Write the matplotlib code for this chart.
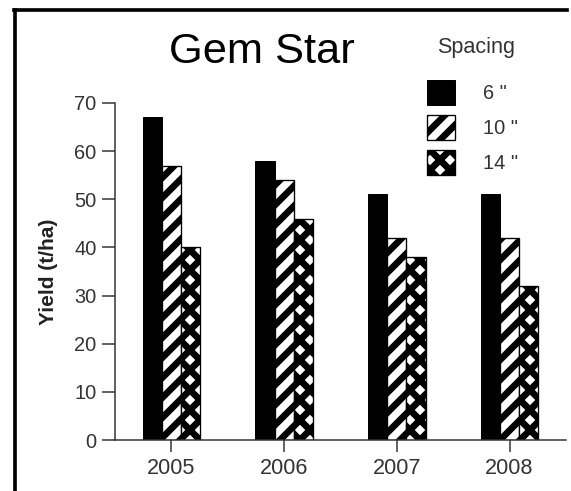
import numpy as np
import matplotlib.pyplot as plt
from matplotlib.lines import Line2D

years = ["2005", "2006", "2007", "2008"]
spacing = ['6 "', '10 "', '14 "']
yield_6 = [67, 58, 51, 51]
yield_10 = [57, 54, 42, 42]
yield_14 = [40, 46, 38, 32]

plt.rcParams['font.family'] = ['Liberation Sans', 'DejaVu Sans']
plt.rcParams['hatch.linewidth'] = 4.0
plt.rcParams['hatch.color'] = 'black'

DPI = 120
fig = plt.figure(figsize=(571 / DPI, 491 / DPI), dpi=DPI)
ax = fig.add_axes([115 / 571, 1 - 440 / 491, 451 / 571, 337 / 491])

x = np.arange(len(years))
w = 0.17
grey = '#333333'

b1 = ax.bar(x - w, yield_6, w, color='black', edgecolor='black', linewidth=0.6, label=spacing[0])
b2 = ax.bar(x, yield_10, w, color='white', edgecolor='black', linewidth=0.8, hatch='//', label=spacing[1])
b3 = ax.bar(x + w, yield_14, w, color='white', edgecolor='black', linewidth=0.8, hatch='xx', label=spacing[2])

ax.set_xlim(-0.5, 3.5)
ax.set_ylim(0, 70)
ax.set_yticks(range(0, 71, 10))
ax.set_xticks(x)
ax.set_xticklabels(years)

for s in ['top', 'right']:
    ax.spines[s].set_visible(False)
ax.spines['left'].set_bounds(0, 70)
for s in ['left', 'bottom']:
    ax.spines[s].set_color(grey)
    ax.spines[s].set_linewidth(0.9)

ax.tick_params(axis='y', length=8, width=0.9, color=grey, labelcolor=grey, labelsize=12, pad=3)
ax.tick_params(axis='x', length=7, width=0.9, color=grey, labelcolor=grey, labelsize=13, pad=4)
ax.set_ylabel('Yield (t/ha)', fontsize=12.5, fontweight='bold', color='#222222', labelpad=10)

fig.text(262 / 571, 1 - 52 / 491, 'Gem Star', fontsize=26, ha='center', va='center', color='black')
fig.text(476 / 571, 1 - 47 / 491, 'Spacing', fontsize=13, ha='center', va='center', color=grey)

leg = fig.legend(handles=[b1, b2, b3], labels=spacing,
                 loc='upper left', bbox_to_anchor=(413 / 571, 1 - 66 / 491),
                 frameon=False, fontsize=12,
                 handlelength=1.4, handleheight=1.55, handletextpad=1.4,
                 labelspacing=0.5, borderpad=0.2)
for t in leg.get_texts():
    t.set_color(grey)

# frame lines along the top and left edge
fig.add_artist(Line2D([15 / 571, 15 / 571], [0, 1 - 10 / 491], transform=fig.transFigure, color='black', lw=2.2))
fig.add_artist(Line2D([14 / 571, 567 / 571], [1 - 10 / 491, 1 - 10 / 491], transform=fig.transFigure, color='black', lw=2.2))

fig.savefig('out.png', dpi=DPI)
